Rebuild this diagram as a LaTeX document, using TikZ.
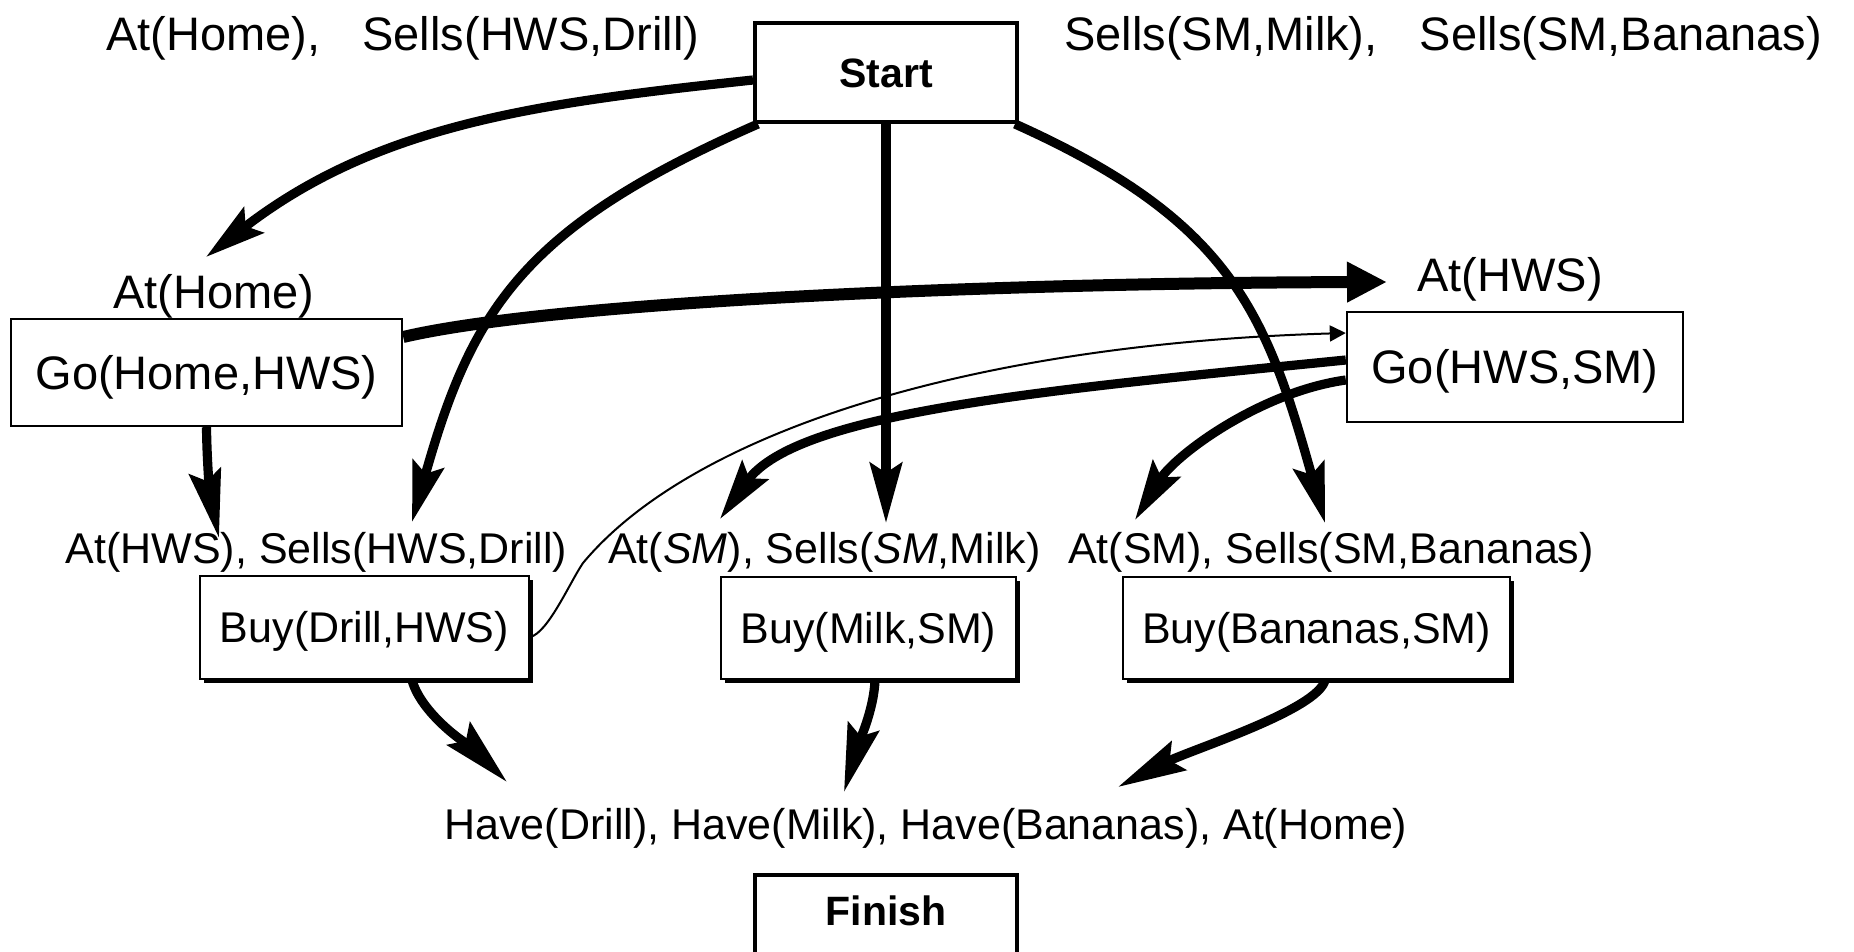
\documentclass[tikz,border=0pt]{standalone}
\usepackage{fontspec}
\setmainfont{Liberation Sans}
\usetikzlibrary{arrows.meta,shadows}
\begin{document}
\begin{tikzpicture}[x=0.5pt,y=-0.5pt,
  bigtext/.style={font=\fontsize{23.5pt}{28pt}\selectfont},
  smalltext/.style={font=\fontsize{21.5pt}{26pt}\selectfont},
  boldtext/.style={font=\fontsize{20.5pt}{25pt}\selectfont\bfseries},
  gobox/.style={bigtext, draw, line width=1.2pt, fill=white, inner sep=0pt,
    text height=16.8pt, text depth=0pt},
  buybox/.style={smalltext, draw, line width=1.1pt, fill=white, inner sep=0pt,
    text height=15.4pt, text depth=0pt,
    drop shadow={shadow xshift=1.8pt, shadow yshift=-1.8pt, fill=black, opacity=1}},
  endbox/.style={boldtext, draw, line width=2pt, fill=white, inner sep=0pt},
  cond/.style={smalltext, inner sep=0pt, anchor=base},
  bigcond/.style={bigtext, inner sep=0pt, anchor=base},
  link/.style={line width=4.6pt, -{Stealth[length=30pt,width=16pt,inset=5pt]}},
  longlink/.style={line width=4.6pt, -{Stealth[length=34pt,width=16pt,inset=5pt]}},
  widelink/.style={line width=6pt, -{Triangle[length=20pt,width=19pt]}},
  thinlink/.style={line width=1pt, -{Triangle[length=8pt,width=8pt]}}
]
\useasboundingbox (0,0) rectangle (1854,952);
\clip (0,0) rectangle (1854,952);
\fill[white] (0,0) rectangle (1854,952);

% initial state and the Start step
\node[bigtext, inner sep=0pt, anchor=base west] (initA) at (106,51)
  {At(Home),\hspace{21pt}Sells(HWS,Drill)};
\node[bigtext, inner sep=0pt, anchor=base west] (initB) at (1064,51)
  {Sells(SM,Milk),\hspace{21pt}Sells(SM,Bananas)};
\node[endbox, minimum width=131pt, minimum height=49.5pt,
  text height=14.7pt, text depth=0pt] (start) at (886,72.5) {Start};

% Go steps with their preconditions
\node[bigcond] (preHome) at (214,309) {At(Home)};
\node[gobox, minimum width=195.5pt, minimum height=53.5pt] (goH) at (206.5,372.5) {Go(Home,HWS)};
\node[bigcond] (preHWS) at (1510,292) {At(HWS)};
\node[gobox, minimum width=168pt, minimum height=55pt] (goS) at (1515,367) {Go(HWS,SM)};

% Buy steps with their preconditions
\node[cond] (preD) at (316.5,563) {At(HWS), Sells(HWS,Drill)};
\node[cond] (preM) at (824.5,563) {At(\textit{SM}), Sells(\textit{SM},Milk)};
\node[cond] (preB) at (1331,563) {At(SM), Sells(SM,Bananas)};
\node[buybox, minimum width=164.5pt, minimum height=51.5pt] (buyD) at (364.5,627.5) {Buy(Drill,HWS)};
\node[buybox, minimum width=147.5pt, minimum height=51pt] (buyM) at (868.5,628) {Buy(Milk,SM)};
\node[buybox, minimum width=193.5pt, minimum height=51pt] (buyB) at (1316.5,628) {Buy(Bananas,SM)};

% goal and the Finish step
\node[cond] (goal) at (926,839) {Have(Drill), Have(Milk), Have(Bananas), At(Home)};
\node[endbox, minimum width=131pt, minimum height=45pt,
  text height=14.7pt, text depth=9.7pt] (finish) at (886,920) {Finish};

% arrow end points
\coordinate (t1) at (206,257);
\coordinate (t2) at (412,522);
\coordinate (t3) at (886,523);
\coordinate (t4) at (1325,523);
\coordinate (t5) at (1387,282);
\coordinate (t6) at (219,538);
\coordinate (t8) at (720,519);
\coordinate (t9) at (1135,520);
\coordinate (t10) at (507,782);
\coordinate (t11) at (844,792);
\coordinate (t12) at (1118,787);
\coordinate (bend) at (583,563);

% causal links
\draw[link] ([yshift=-3.75pt]start.west) .. controls (538,103) and (378,124) .. (t1);
\draw[link] ([xshift=2.5pt]start.south west) .. controls (523,227) and (472,309) .. (t2);
\draw[link] (start.south) -- (t3);
\draw[link] ([xshift=-2pt]start.south east) .. controls (1231,221) and (1266,312) .. (t4);
\draw[widelink] ([yshift=17.75pt]goH.east) .. controls (552,302) and (982,283) .. (t5);
\draw[longlink] (goH.south) .. controls (207,470) and (211,500) .. (t6);
\draw[thinlink] ([yshift=-4.75pt]buyD.east) .. controls (548,633) and (570,582) .. (bend)
  .. controls (693,431) and (974,344) .. ([yshift=17pt]goS.west);
\draw[link] ([yshift=3.5pt]goS.west) .. controls (1047,390) and (797,412) .. (t8);
\draw[link] ([yshift=-6.5pt]goS.west) .. controls (1260,392) and (1175,455) .. (t9);
\draw[longlink] ([xshift=23.75pt]buyD.south) .. controls (422,717) and (477,752) .. (t10);
\draw[longlink] ([xshift=3.25pt]buyM.south) .. controls (874,710) and (858,745) .. (t11);
\draw[longlink] ([xshift=4.25pt]buyB.south) .. controls (1318,710) and (1190,750) .. (t12);
\end{tikzpicture}
\end{document}
